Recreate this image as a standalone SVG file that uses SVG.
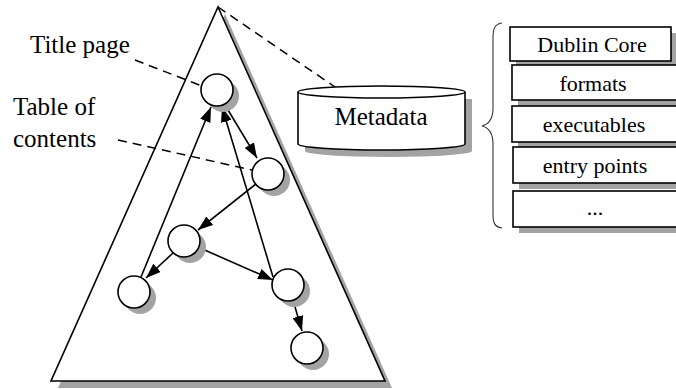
<svg xmlns="http://www.w3.org/2000/svg" width="676" height="389" viewBox="0 0 676 389">
<style>
  .shadow{fill:#a3a3a3;stroke:none}
  .shape{fill:#fff;stroke:#000;stroke-width:1.6}
  .edge{fill:none;stroke:#000;stroke-width:1.6}
  .dash{fill:none;stroke:#000;stroke-width:1.5;stroke-dasharray:9 6}
  .lbl{font-family:"Liberation Serif","Times New Roman",serif;font-size:25px;fill:#000}
  .box{font-family:"Liberation Serif","Times New Roman",serif;font-size:22px;fill:#000;text-anchor:middle}
</style>
<defs>
  <marker id="arr" viewBox="0 0 15 11" refX="15" refY="5.5" markerWidth="15" markerHeight="11" markerUnits="userSpaceOnUse" orient="auto">
    <path d="M0,0 L15,5.5 L0,11 Z" fill="#000"/>
  </marker>
</defs>
<rect width="676" height="389" fill="#fff"/>

<g id="document">
  <polygon class="shadow" points="225,14 392,388 58,388"/>
  <polygon class="shape" points="218,7 385,381 51,381"/>
</g>

<g id="labels">
  <text class="lbl" x="30" y="53">Title page</text>
  <text class="lbl" x="13" y="115">Table of</text>
  <text class="lbl" x="13" y="147">contents</text>
</g>

<g id="connectors">
  <line class="dash" x1="135" y1="60" x2="202" y2="86"/>
  <line class="dash" x1="118" y1="140" x2="252" y2="170"/>
  <line class="dash" x1="218" y1="7" x2="335" y2="87"/>
  <line class="edge" x1="141" y1="277" x2="211" y2="107" marker-end="url(#arr)"/>
  <line class="edge" x1="273" y1="277" x2="222" y2="107" marker-end="url(#arr)"/>
  <line class="edge" x1="225" y1="105" x2="257" y2="158" marker-end="url(#arr)"/>
  <line class="edge" x1="256" y1="184" x2="198" y2="230" marker-end="url(#arr)"/>
  <line class="edge" x1="173" y1="253" x2="146" y2="278" marker-end="url(#arr)"/>
  <line class="edge" x1="200" y1="248" x2="273" y2="280" marker-end="url(#arr)"/>
  <line class="edge" x1="293" y1="300" x2="302" y2="331" marker-end="url(#arr)"/>
</g>

<g id="n-title">
  <circle class="shadow" cx="223" cy="96" r="16"/>
  <circle class="shape" cx="217" cy="90" r="16"/>
</g>
<g id="n-toc">
  <circle class="shadow" cx="274" cy="180" r="16"/>
  <circle class="shape" cx="268" cy="174" r="16"/>
</g>
<g id="n-3">
  <circle class="shadow" cx="190" cy="247" r="16"/>
  <circle class="shape" cx="184" cy="241" r="16"/>
</g>
<g id="n-4">
  <circle class="shadow" cx="140" cy="298" r="16"/>
  <circle class="shape" cx="134" cy="292" r="16"/>
</g>
<g id="n-5">
  <circle class="shadow" cx="294" cy="291" r="16"/>
  <circle class="shape" cx="288" cy="285" r="16"/>
</g>
<g id="n-6">
  <circle class="shadow" cx="313" cy="354" r="16"/>
  <circle class="shape" cx="307" cy="348" r="16"/>
</g>

<g id="metadata">
  <path class="shadow" d="M305,99 L472,99 L472,151 A83.5,6 0 0 1 305,151 Z"/>
  <path class="shape" d="M298,92 A83.5,6 0 0 1 465,92 L465,144 A83.5,6 0 0 1 298,144 Z"/>
  <path class="shape" fill="none" d="M298,92 A83.5,6 0 0 0 465,92"/>
  <text class="box" x="381" y="125" style="font-size:25px">Metadata</text>
</g>

<g id="brace">
  <path d="M502,23 C494,24 493,30 493,38 L493,108 C493,118 490,124 482,126 C490,128 493,134 493,144 L493,214 C493,222 494,227 502,228" fill="none" stroke="#333" stroke-width="1.1"/>
</g>

<g id="box-dublin">
  <rect class="shadow" x="516" y="33" width="161" height="34"/>
  <rect class="shape" x="510" y="27" width="161" height="34"/>
  <text class="box" x="592" y="52">Dublin Core</text>
</g>
<g id="box-formats">
  <rect class="shadow" x="518" y="71" width="170" height="35"/>
  <rect class="shape" x="512" y="65" width="170" height="35"/>
  <text class="box" x="593" y="91">formats</text>
</g>
<g id="box-exec">
  <rect class="shadow" x="518" y="112" width="170" height="36"/>
  <rect class="shape" x="512" y="106" width="170" height="36"/>
  <text class="box" x="594" y="132">executables</text>
</g>
<g id="box-entry">
  <rect class="shadow" x="519" y="153" width="170" height="36"/>
  <rect class="shape" x="513" y="147" width="170" height="36"/>
  <text class="box" x="595" y="173">entry points</text>
</g>
<g id="box-more">
  <rect class="shadow" x="519" y="197" width="170" height="36"/>
  <rect class="shape" x="513" y="191" width="170" height="36"/>
  <text class="box" x="595" y="215">...</text>
</g>
</svg>
